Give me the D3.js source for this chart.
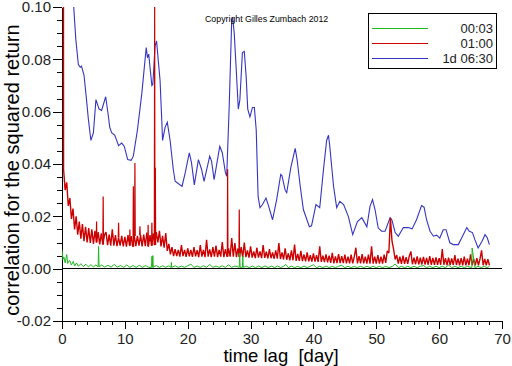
<!DOCTYPE html>
<html><head><meta charset="utf-8">
<script src="https://cdn.jsdelivr.net/npm/d3@7"></script>
<style>
html,body{margin:0;padding:0;background:#fff;}
svg{display:block;font-family:"Liberation Sans",Arial,sans-serif;}
</style></head>
<body><svg id="chart" width="512" height="366"></svg>
<script>
// ---------- data ----------
const seriesNames = ["00:03", "01:00", "1d 06:30"];
const seriesColors = ["#1fb81f", "#cc0000", "#3434c4"];
const xTicks = [0, 10, 20, 30, 40, 50, 60, 70];
const yTicks = [-0.02, 0.00, 0.02, 0.04, 0.06, 0.08, 0.10];

// 01:00 series (noisy band), lag step 0.25 day
const redStep = 0.25;
const redVal = [
 1.0, 0.038, 0.030, 0.033, 0.024, 0.027, 0.019, 0.023,
 0.015, 0.020, 0.013, 0.018, 0.0115, 0.017, 0.0105, 0.016,
 0.010, 0.0155, 0.0098, 0.015, 0.0095, 0.0145, 0.0100, 0.0140,
 0.0093, 0.0135, 0.0092, 0.0128, 0.014, 0.009, 0.013, 0.0088,
 0.015, 0.0088, 0.0128, 0.0086, 0.0120, 0.0088, 0.0125, 0.0085,
 0.0122, 0.0084, 0.0128, 0.0088, 0.0124, 0.0084, 0.0125, 0.0086,
 0.0125, 0.0088, 0.0128, 0.0085, 0.013, 0.0086, 0.0138, 0.0085,
 0.0128, 0.0088, 0.0135, 0.0090, 0.0140, 0.010, 0.0145, 0.0085,
 0.0125, 0.008, 0.0136, 0.0068, 0.0095, 0.0055, 0.0082, 0.0048,
 0.0075, 0.0048, 0.0072, 0.0046, 0.009, 0.0048, 0.0072, 0.0045,
 0.0078, 0.0047, 0.0072, 0.0045, 0.0082, 0.0047, 0.0071, 0.0044,
 0.009, 0.0046, 0.0072, 0.0044, 0.011, 0.0046, 0.0074, 0.0044,
 0.0082, 0.0046, 0.0088, 0.0044, 0.0072, 0.0046, 0.0102, 0.0044,
 0.0075, 0.0046, 0.0078, 0.0046, 0.0117, 0.0046, 0.0098, 0.0044,
 0.0078, 0.0045, 0.0082, 0.0043, 0.0100, 0.0044, 0.007, 0.0042,
 0.0085, 0.0042, 0.0066, 0.004, 0.008, 0.0042, 0.0066, 0.004,
 0.009, 0.0041, 0.0065, 0.0039, 0.0075, 0.004, 0.0062, 0.0038,
 0.007, 0.0038, 0.0098, 0.0037, 0.0062, 0.0035, 0.0078, 0.0034,
 0.0058, 0.0032, 0.007, 0.0032, 0.0092, 0.003, 0.0056, 0.003,
 0.0068, 0.0029, 0.0054, 0.0028, 0.0062, 0.0028, 0.0052, 0.0027,
 0.0058, 0.0027, 0.0052, 0.0026, 0.0085, 0.0026, 0.005, 0.0025,
 0.0055, 0.0024, 0.005, 0.0022, 0.006, 0.002, 0.0047, 0.0021,
 0.0056, 0.0021, 0.0048, 0.0021, 0.0054, 0.002, 0.0046, 0.002,
 0.0054, 0.002, 0.0046, 0.008, 0.002, 0.0048, 0.002, 0.0056,
 0.002, 0.0046, 0.0019, 0.0054, 0.0019, 0.0085, 0.0019, 0.0046,
 0.0019, 0.0052, 0.0019, 0.0046, 0.0019, 0.0054, 0.0022, 0.0068,
 0.0060, 0.0194, 0.0105, 0.0075, 0.0035, 0.0052, 0.0019, 0.0046,
 0.0018, 0.005, 0.0018, 0.0044, 0.0018, 0.0048, 0.0066, 0.0017,
 0.0042, 0.0017, 0.0047, 0.0016, 0.0042, 0.0016, 0.0045, 0.0016,
 0.0041, 0.0015, 0.0048, 0.0015, 0.0041, 0.0015, 0.0043, 0.0015,
 0.004, 0.0015, 0.0075, 0.0015, 0.004, 0.0014, 0.0042, 0.0014,
 0.0039, 0.0014, 0.0052, 0.0014, 0.0038, 0.0013, 0.004, 0.0013,
 0.0046, 0.0013, 0.0038, 0.0013, 0.0055, 0.0013, 0.0037, 0.0013,
 0.004, 0.0013, 0.0037, 0.007, 0.0013, 0.0037, 0.0013, 0.0036,
 0.0013
];
// 01:00 series, isolated narrow spikes
const redSpikeLag = [5.5, 6.55, 9.0, 10.8, 11.35, 11.6, 12.4, 13.7, 14.3, 14.74, 14.85, 26.35, 28.2];
const redSpikeVal = [0.018, 0.0276, 0.0175, 0.015, 0.0315, 0.0404, 0.0162, 0.0168, 0.0175, 0.100, 0.0386, 0.038, 0.0226];

// 00:03 series
const greenLag = [0,0.15,0.3,0.5,0.75,0.9,1.2,1.5,1.8,2.0,2.3,2.6,3.0,3.4,3.8,4.2,4.6,5.0,5.4,5.75,5.82,5.9,6.3,6.8,7.3,7.8,8.3,8.8,9.3,9.8,10.3,10.8,11.3,11.8,12.3,12.8,13.3,13.8,14.25,14.3,14.38,14.45,14.52,15.0,15.5,16.0,16.5,17.0,17.35,17.4,17.45,18.0,18.5,19.0,19.5,20.0,20.5,21.0,21.5,22.0,22.5,23.0,23.5,24.0,24.5,25.0,25.5,26.0,26.5,27.0,27.5,28.2,28.27,28.34,28.7,28.77,28.84,29.3,29.8,30.3,30.8,31.3,31.8,32.3,32.8,33.3,33.8,34.3,34.8,35.3,35.6,36.0,36.5,37.0,37.5,38.0,38.5,39.0,39.5,40.0,40.5,41.0,41.5,42.0,42.5,43.0,43.5,44.0,44.5,45.0,45.5,46.0,46.5,47.0,47.5,48.0,48.5,49.0,49.5,50.0,50.5,51.0,51.5,52.0,52.6,53.0,53.5,54.0,54.5,55.0,55.5,56.0,56.5,57.0,57.5,58.0,58.5,59.0,59.5,60.0,60.5,61.0,61.5,62.0,62.5,63.0,63.5,64.0,64.5,65.15,65.2,65.25,65.7,66.2,66.7,67.2,67.6,68.0];
const greenVal = [0.0073,0.0035,0.0045,0.0022,0.0054,0.002,0.0032,0.0014,0.0028,0.001,0.0022,0.0009,0.0019,0.0008,0.0017,0.0007,0.0015,0.0007,0.0014,0.0007,0.0085,0.0007,0.0014,0.0006,0.0013,0.0006,0.0016,0.0006,0.0012,0.0005,0.0014,0.0005,0.0012,0.0005,0.0013,0.0005,0.0012,0.0005,0.0005,0.0047,0.0005,0.005,0.0005,0.0012,0.0005,0.0011,0.0005,0.0011,0.0005,0.0024,0.0005,0.0011,0.0005,0.001,0.0005,0.0011,0.0017,0.0005,0.001,0.0005,0.0011,0.0005,0.0016,0.0005,0.001,0.0005,0.0011,0.0005,0.0015,0.0005,0.001,0.0005,0.006,0.0005,0.0005,0.0047,0.0005,0.001,0.0004,0.001,0.0004,0.001,0.0004,0.0011,0.0004,0.001,0.0004,0.001,0.0004,0.001,0.0016,0.0004,0.001,0.0004,0.0009,0.0004,0.001,0.0004,0.0009,0.0015,0.0004,0.0009,0.0004,0.001,0.0004,0.0009,0.0004,0.0009,0.0013,0.0004,0.0009,0.0004,0.0009,0.0004,0.0009,0.0004,0.0009,0.0004,0.0009,0.0004,0.0009,0.0004,0.0009,0.0004,0.0009,0.0018,0.0004,0.0009,0.0004,0.0009,0.0004,0.0009,0.0004,0.0009,0.0012,0.0004,0.0009,0.0004,0.0009,0.0004,0.0009,0.0004,0.0014,0.0004,0.0009,0.0004,0.0009,0.0004,0.0009,0.0004,0.0004,0.0079,0.0004,0.0009,0.0004,0.0009,0.0004,0.0009,0.0008];

// 1d 06:30 series
const blueLag = [1.85,2.2,2.6,2.9,3.1,3.5,3.9,4.2,4.6,5.0,5.4,5.9,6.3,6.95,7.3,7.6,7.9,8.4,9.0,9.5,9.9,10.45,11.0,11.35,12.0,12.7,13.4,13.6,13.8,14.0,14.3,14.45,14.8,15.05,15.3,15.6,15.85,16.0,16.4,16.75,17.2,17.7,18.0,18.8,19.1,19.6,20.25,20.6,21.05,21.7,22.2,22.6,23.5,23.8,24.2,25.1,25.5,26.0,26.2,26.6,27.0,27.15,27.4,27.7,28.05,28.3,28.7,29.0,29.3,29.55,29.9,30.3,30.6,30.9,31.2,31.5,31.9,32.45,32.8,33.5,34.15,34.8,35.0,35.5,35.75,36.4,37.1,37.4,37.9,38.4,39.35,39.7,40.4,41.0,41.6,42.1,42.4,42.6,43.2,43.7,44.2,44.8,45.55,46.25,47.0,47.7,48.5,49.0,49.4,49.8,50.3,50.85,51.4,52.2,52.5,53.0,53.5,54.3,55.1,55.7,56.4,57.2,57.6,58.0,58.55,59.1,59.6,60.1,60.65,61.1,61.7,62.25,63.05,63.6,64.4,64.8,65.3,65.7,66.2,66.8,67.3,67.65,68.0];
const blueVal = [0.1005,0.0876,0.078,0.0770,0.0774,0.074,0.0646,0.057,0.049,0.052,0.0646,0.061,0.0605,0.0657,0.0597,0.054,0.052,0.051,0.047,0.048,0.0468,0.0417,0.0414,0.043,0.053,0.067,0.0845,0.0806,0.082,0.077,0.070,0.0705,0.085,0.087,0.080,0.072,0.058,0.049,0.054,0.056,0.049,0.038,0.0334,0.032,0.0315,0.0366,0.0443,0.0405,0.032,0.0417,0.038,0.0334,0.043,0.041,0.034,0.0468,0.0443,0.0367,0.0353,0.062,0.095,0.096,0.090,0.077,0.061,0.0646,0.0826,0.083,0.0734,0.061,0.058,0.0616,0.0616,0.053,0.0276,0.0233,0.0245,0.027,0.0245,0.0187,0.0264,0.036,0.0355,0.030,0.029,0.0386,0.046,0.0417,0.0315,0.0226,0.016,0.0164,0.0245,0.0233,0.0379,0.049,0.051,0.0468,0.0315,0.0233,0.0257,0.0245,0.020,0.013,0.018,0.0195,0.016,0.0238,0.0264,0.0226,0.0156,0.0143,0.0143,0.0195,0.0185,0.0138,0.0124,0.0157,0.0157,0.0152,0.0187,0.0241,0.0235,0.0187,0.0143,0.0124,0.0128,0.0117,0.0149,0.0149,0.0099,0.0092,0.0092,0.0118,0.0157,0.0143,0.0138,0.011,0.0079,0.0104,0.0130,0.0118,0.0092];

// ---------- chart ----------
const svg = d3.select("#chart");
const x = d3.scaleLinear().domain([0, 70]).range([62, 502]);
const y = d3.scaleLinear().domain([-0.02, 0.10]).range([321, 7]);

const fmt = d => d.toFixed(2);

const yMinor = d3.range(-20, 101, 5).filter(v => v % 20 !== 0).map(v => v / 1000);
const xMinor = d3.range(0, 71, 2).filter(v => v % 10 !== 0);

const gyMinor = svg.append("g").attr("transform", "translate(62,0)")
  .call(d3.axisLeft(y).tickValues(yMinor).tickSize(5).tickSizeOuter(0).tickFormat(""));
gyMinor.select(".domain").remove();
const gxMinor = svg.append("g").attr("transform", "translate(0,321)")
  .call(d3.axisBottom(x).tickValues(xMinor).tickSize(4).tickSizeOuter(0).tickFormat(""));
gxMinor.select(".domain").remove();

svg.append("g").attr("transform", "translate(62,0)")
  .call(d3.axisLeft(y).tickValues(yTicks).tickSize(9).tickSizeOuter(0).tickPadding(2).tickFormat(fmt));
svg.append("g").attr("transform", "translate(0,321)")
  .call(d3.axisBottom(x).tickValues(xTicks).tickSize(8).tickSizeOuter(0).tickPadding(4).tickFormat(d3.format("d")));

svg.selectAll(".tick text").attr("font-family", "Liberation Sans, Arial, sans-serif")
  .attr("font-size", 15).attr("fill", "#222");
svg.selectAll(".tick line, .domain").attr("stroke", "#000").attr("shape-rendering", "crispEdges");

// zero line
svg.append("line").attr("x1", x(0)).attr("x2", x(70)).attr("y1", y(0)).attr("y2", y(0))
  .attr("stroke", "#000").attr("shape-rendering", "crispEdges");

// clip
svg.append("clipPath").attr("id", "plotclip").append("rect")
  .attr("x", x(0)).attr("y", y(0.10)).attr("width", x(70) - x(0) + 2).attr("height", y(-0.02) - y(0.10));

const line = d3.line().x(d => x(d[0])).y(d => y(d[1]));
const plot = svg.append("g").attr("clip-path", "url(#plotclip)");

const blueData = blueLag.map((l, i) => [l, blueVal[i]]);
const redData = redVal.map((v, i) => [i * redStep, v]);
const greenData = greenLag.map((l, i) => [l, greenVal[i]]);

plot.append("path").datum(blueData).attr("d", line).attr("fill", "none")
  .attr("stroke", seriesColors[2]).attr("stroke-width", 1.1);
plot.append("path").datum(redData).attr("d", line).attr("fill", "none")
  .attr("stroke", seriesColors[1]).attr("stroke-width", 1.4).attr("stroke-linejoin", "bevel");
// narrow spikes, rising from the band
redSpikeLag.forEach((l, i) => {
  const base = redVal[Math.round(l / redStep)];
  plot.append("path").datum([[l - 0.05, base], [l, redSpikeVal[i]], [l + 0.05, base]])
    .attr("d", line).attr("fill", "none").attr("stroke", seriesColors[1]).attr("stroke-width", 1.2);
});
plot.append("path").datum(greenData).attr("d", line).attr("fill", "none")
  .attr("stroke", seriesColors[0]).attr("stroke-width", 1);

// axis titles
svg.append("text").attr("transform", "translate(19,170) rotate(-90)")
  .attr("text-anchor", "middle").attr("font-size", 20).attr("fill", "#000")
  .text("correlation for the squared return");
svg.append("text").attr("x", 281).attr("y", 362).attr("text-anchor", "middle")
  .attr("font-size", 18.5).attr("fill", "#000")
  .style("white-space", "pre").text("time lag  [day]");

// copyright
svg.append("text").attr("x", 205).attr("y", 22).attr("font-size", 8.8).attr("fill", "#000")
  .text("Copyright Gilles Zumbach 2012");

// legend
const lg = svg.append("g");
lg.append("rect").attr("x", 368.5).attr("y", 13.5).attr("width", 128).attr("height", 55)
  .attr("fill", "#fff").attr("stroke", "#000");
seriesNames.forEach((n, i) => {
  const yy = 28 + i * 15;
  lg.append("line").attr("x1", 372).attr("x2", 428).attr("y1", yy + 0.5).attr("y2", yy + 0.5)
    .attr("stroke", seriesColors[i]).attr("stroke-width", 1).attr("shape-rendering", "crispEdges");
  lg.append("text").attr("x", 493).attr("y", yy + 4.5).attr("text-anchor", "end")
    .attr("font-size", 13).attr("fill", "#222").text(n);
});
</script>
</body></html>
